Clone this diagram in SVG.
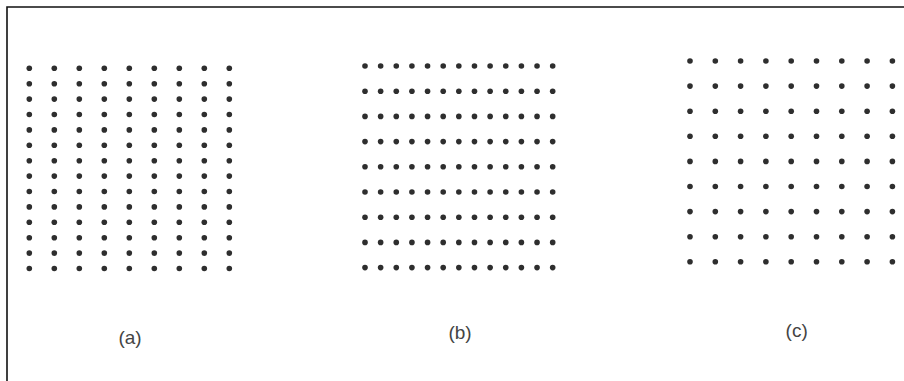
<svg xmlns="http://www.w3.org/2000/svg" xmlns:xlink="http://www.w3.org/1999/xlink" width="904" height="381" viewBox="0 0 904 381">
<style>
.d{fill:#2e2e2e}
.lbl{font-family:"Liberation Sans",Arial,sans-serif;font-size:19px;fill:#444;text-anchor:middle}
.frame{stroke:#111;stroke-width:1.6;fill:none}
</style>
<defs>
<circle id="dot" r="2.8" class="d"/>
<g id="colA">
<use xlink:href="#dot" y="0"/><use xlink:href="#dot" y="15.4"/><use xlink:href="#dot" y="30.8"/><use xlink:href="#dot" y="46.2"/><use xlink:href="#dot" y="61.6"/><use xlink:href="#dot" y="77"/><use xlink:href="#dot" y="92.4"/><use xlink:href="#dot" y="107.8"/><use xlink:href="#dot" y="123.2"/><use xlink:href="#dot" y="138.6"/><use xlink:href="#dot" y="154"/><use xlink:href="#dot" y="169.4"/><use xlink:href="#dot" y="184.8"/><use xlink:href="#dot" y="200.2"/>
</g>
<g id="rowB">
<use xlink:href="#dot" x="0"/><use xlink:href="#dot" x="15.64"/><use xlink:href="#dot" x="31.28"/><use xlink:href="#dot" x="46.92"/><use xlink:href="#dot" x="62.56"/><use xlink:href="#dot" x="78.2"/><use xlink:href="#dot" x="93.84"/><use xlink:href="#dot" x="109.48"/><use xlink:href="#dot" x="125.12"/><use xlink:href="#dot" x="140.76"/><use xlink:href="#dot" x="156.4"/><use xlink:href="#dot" x="172.04"/><use xlink:href="#dot" x="187.68"/>
</g>
<g id="rowC">
<use xlink:href="#dot" x="0"/><use xlink:href="#dot" x="25.3"/><use xlink:href="#dot" x="50.6"/><use xlink:href="#dot" x="75.9"/><use xlink:href="#dot" x="101.2"/><use xlink:href="#dot" x="126.5"/><use xlink:href="#dot" x="151.8"/><use xlink:href="#dot" x="177.1"/><use xlink:href="#dot" x="202.4"/>
</g>
</defs>
<rect width="904" height="381" fill="#fff"/>
<path class="frame" d="M7,381 V7 H904"/>
<g id="panel-a">
<g transform="translate(29.3,68.3)">
<use xlink:href="#colA" x="0"/><use xlink:href="#colA" x="25"/><use xlink:href="#colA" x="50"/><use xlink:href="#colA" x="75"/><use xlink:href="#colA" x="100"/><use xlink:href="#colA" x="125"/><use xlink:href="#colA" x="150"/><use xlink:href="#colA" x="175"/><use xlink:href="#colA" x="200"/>
</g>
<text class="lbl" x="130" y="344">(a)</text>
</g>
<g id="panel-b">
<g transform="translate(365,66)">
<use xlink:href="#rowB" y="0"/><use xlink:href="#rowB" y="25.2"/><use xlink:href="#rowB" y="50.4"/><use xlink:href="#rowB" y="75.6"/><use xlink:href="#rowB" y="100.8"/><use xlink:href="#rowB" y="126"/><use xlink:href="#rowB" y="151.2"/><use xlink:href="#rowB" y="176.4"/><use xlink:href="#rowB" y="201.6"/>
</g>
<text class="lbl" x="460" y="339">(b)</text>
</g>
<g id="panel-c">
<g transform="translate(690,61)">
<use xlink:href="#rowC" y="0"/><use xlink:href="#rowC" y="25.1"/><use xlink:href="#rowC" y="50.2"/><use xlink:href="#rowC" y="75.3"/><use xlink:href="#rowC" y="100.4"/><use xlink:href="#rowC" y="125.5"/><use xlink:href="#rowC" y="150.6"/><use xlink:href="#rowC" y="175.7"/><use xlink:href="#rowC" y="200.8"/>
</g>
<text class="lbl" x="796.7" y="337">(c)</text>
</g>
</svg>
